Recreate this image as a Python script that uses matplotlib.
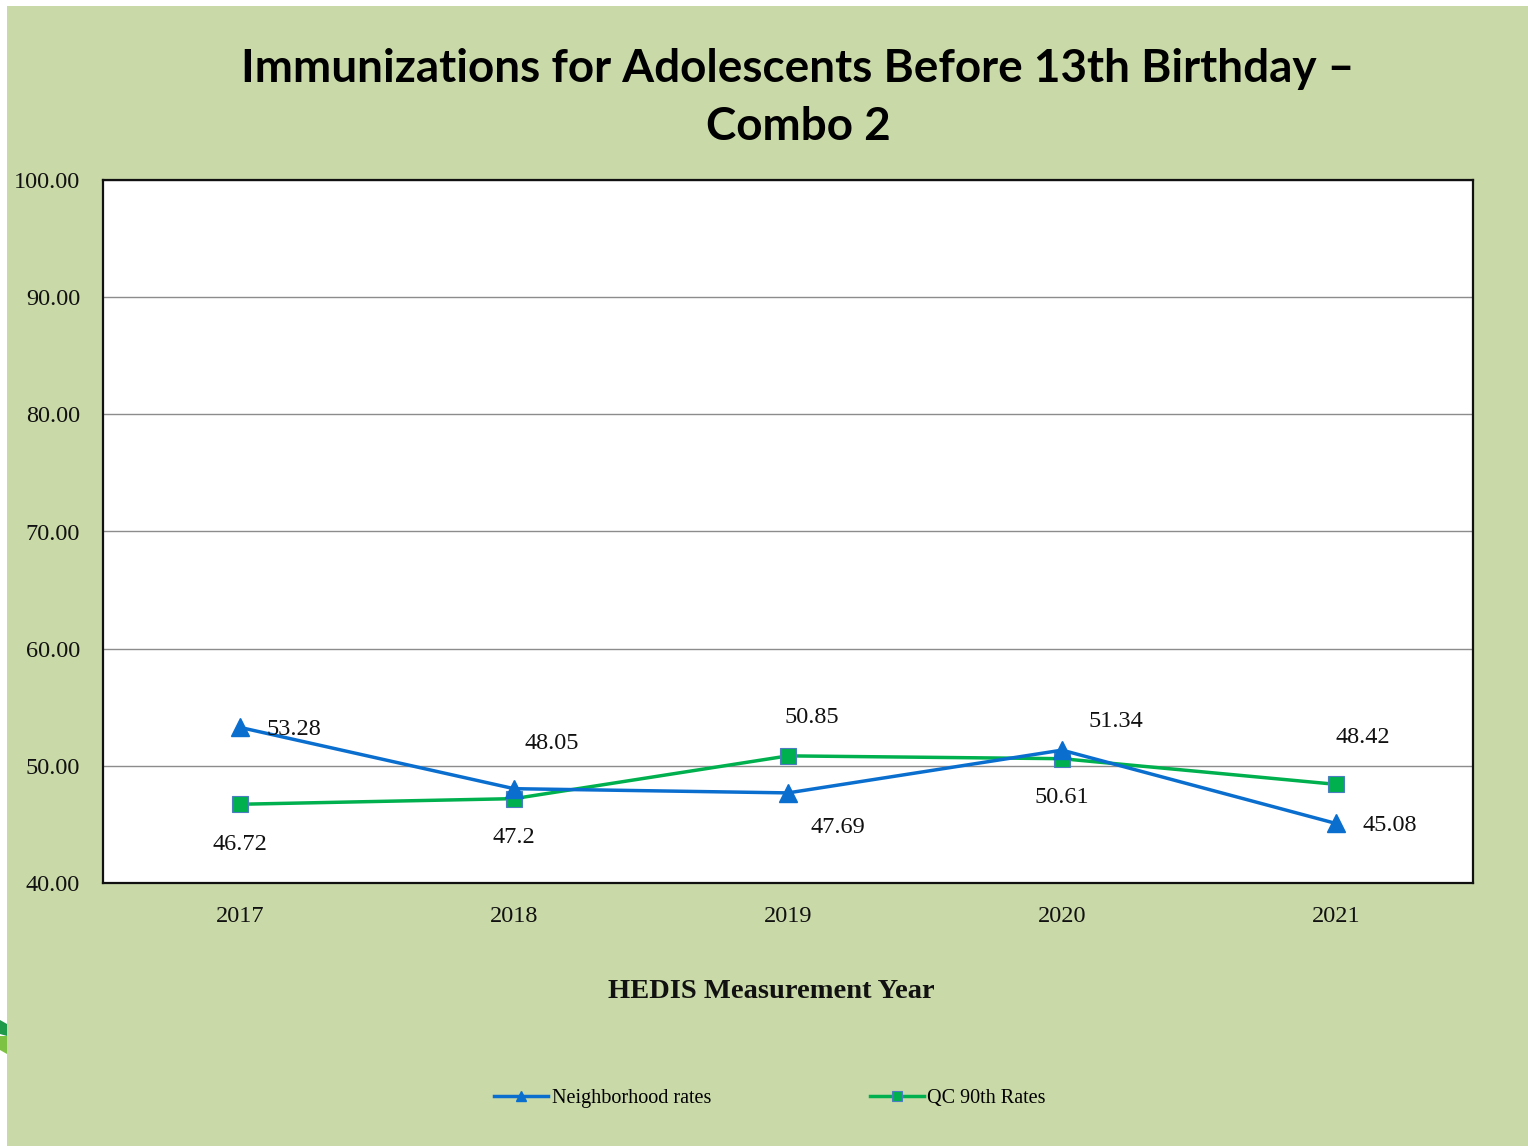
import matplotlib
matplotlib.use("Agg")
import matplotlib.pyplot as plt
from matplotlib.patches import Rectangle, Polygon

# Chart data
years = ["2017", "2018", "2019", "2020", "2021"]
neighborhood = [53.28, 48.05, 47.69, 51.34, 45.08]
qc90 = [46.72, 47.2, 50.85, 50.61, 48.42]
y_ticks = [40, 50, 60, 70, 80, 90, 100]

# Label offsets in pixels (dx, dy) for each point
nb_offsets = [(54, -2), (38, 45), (50, -35), (54, 29), (54, -2)]
qc_offsets = [(0, -40), (0, -39), (24, 38), (0, -39), (27, 47)]

BG = "#C9D9A8"
BLUE = "#0A6ECF"
GREEN = "#00B04F"
SERIF = ["Liberation Serif", "DejaVu Serif"]

W, H = 1528, 1146
fig = plt.figure(figsize=(W / 100, H / 100), dpi=100, facecolor="white")

# Green panel with thin white margin on top and left
fig.patches.append(Rectangle((7 / W, 0), 1 - 7 / W, 1 - 6 / H,
                             transform=fig.transFigure, facecolor=BG,
                             edgecolor="none", zorder=-2))
# Small decorative swoosh at the left edge
fig.patches.append(Polygon([(0, 1 - 1020 / H), (7 / W, 1 - 1024 / H),
                            (7 / W, 1 - 1036 / H), (0, 1 - 1034 / H)],
                           closed=True, transform=fig.transFigure,
                           facecolor="#1E9A4A", edgecolor="none", zorder=-1))
fig.patches.append(Polygon([(0, 1 - 1036 / H), (7 / W, 1 - 1036 / H),
                            (7 / W, 1 - 1054 / H), (0, 1 - 1050 / H)],
                           closed=True, transform=fig.transFigure,
                           facecolor="#7DC242", edgecolor="none", zorder=-1))

ax = fig.add_axes([103 / W, 1 - 883 / H, (1473 - 103) / W, (883 - 180) / H])
ax.set_zorder(1)
ax.set_facecolor("white")

x = list(range(len(years)))
ax.plot(x, neighborhood, color=BLUE, lw=2.5, marker="^", markersize=13,
        markerfacecolor=BLUE, markeredgecolor=BLUE, label="Neighborhood rates",
        zorder=4)
ax.plot(x, qc90, color=GREEN, lw=2.5, marker="s", markersize=12,
        markerfacecolor=GREEN, markeredgecolor="#4A7EC0", markeredgewidth=0.8,
        label="QC 90th Rates", zorder=3)

for xi, v, (dx, dy) in zip(x, neighborhood, nb_offsets):
    ax.annotate(f"{v:g}", (xi, v), xytext=(dx, dy), textcoords="offset pixels",
                ha="center", va="center", fontsize=17.5, family=SERIF,
                color="#111111", zorder=5)
for xi, v, (dx, dy) in zip(x, qc90, qc_offsets):
    ax.annotate(f"{v:g}", (xi, v), xytext=(dx, dy), textcoords="offset pixels",
                ha="center", va="center", fontsize=17.5, family=SERIF,
                color="#111111", zorder=5)

ax.set_xlim(-0.5, len(years) - 0.5)
ax.set_ylim(40, 100)
ax.set_yticks(y_ticks)
ax.set_yticklabels([f"{t:.2f}" for t in y_ticks], family=SERIF, fontsize=17.5)
ax.set_xticks(x)
ax.set_xticklabels(years, family=SERIF, fontsize=17.5)
ax.tick_params(axis="both", length=0, colors="#111111")
ax.tick_params(axis="y", pad=16.5)
ax.tick_params(axis="x", pad=16.5)
ax.yaxis.grid(True, color="#8C8C8C", lw=1.0)
ax.set_axisbelow(True)
for s in ax.spines.values():
    s.set_color("#111111")
    s.set_linewidth(1.6)

fig.text(798 / W, 1 - 98 / H,
         "Immunizations for Adolescents Before 13th Birthday \u2013\nCombo 2",
         ha="center", va="center", fontsize=33, fontweight="bold",
         family=["Lato", "DejaVu Sans"], linespacing=1.45, color="black")

fig.text(771 / W, 1 - 991 / H, "HEDIS Measurement Year", ha="center",
         va="center", fontsize=20.5, fontweight="bold", family=SERIF,
         color="#111111")

fig.legend(loc="center", bbox_to_anchor=(770 / W, 1 - 1098 / H), ncol=2,
           frameon=False, prop={"family": SERIF, "size": 14.5},
           handlelength=2.7, handletextpad=0.15, columnspacing=7.9,
           markerscale=0.6)

fig.savefig("out.png", dpi=100, facecolor=fig.get_facecolor())
